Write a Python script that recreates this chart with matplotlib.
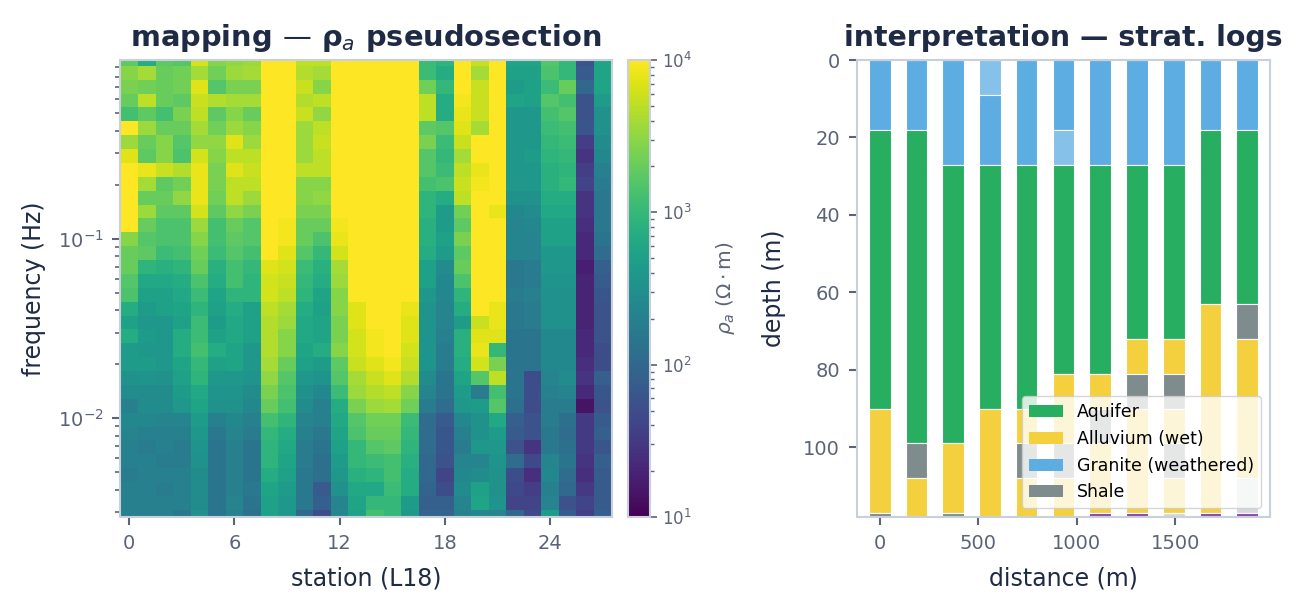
import numpy as np
import matplotlib
matplotlib.use('Agg')
import matplotlib.pyplot as plt
from matplotlib.colors import LogNorm
from matplotlib.patches import Patch

# ---- data: pseudosection (log10 rho_a, rows = high -> low frequency) ----
stations = np.arange(28)
freqs = np.logspace(0, -2.55, 34)

log_rho = [
    [3.25, 2.85, 3.25, 3.2, 3.8, 3.45, 3.5, 3.55, 4.1, 4.1, 3.7, 3.7, 4.1, 4.1, 4.1, 4.1, 4.1, 3.05, 2.95, 4.1, 3.75, 4.1, 2.75, 2.75, 3.2, 3.0, 1.75, 2.75],
    [3.45, 3.6, 3.3, 3.35, 3.6, 3.35, 3.55, 3.6, 4.1, 4.1, 3.65, 3.6, 4.1, 4.1, 4.1, 4.1, 4.1, 3.05, 2.85, 4.1, 3.6, 4.1, 2.7, 2.7, 3.15, 3.0, 1.85, 2.75],
    [3.4, 3.35, 3.3, 3.35, 3.85, 3.2, 3.4, 3.4, 4.1, 4.1, 3.75, 3.45, 4.1, 4.1, 4.1, 4.1, 4.1, 3.35, 3.0, 4.1, 3.75, 4.1, 2.65, 2.7, 3.05, 3.3, 2.0, 2.75],
    [3.3, 3.7, 3.3, 3.25, 3.75, 3.65, 3.6, 3.6, 4.1, 4.1, 3.65, 3.7, 4.1, 4.1, 4.1, 4.1, 4.1, 3.7, 2.85, 3.95, 3.75, 4.1, 2.75, 2.7, 3.2, 3.1, 1.75, 2.65],
    [3.1, 3.25, 3.1, 3.4, 3.7, 3.25, 3.45, 3.3, 4.1, 4.1, 3.75, 3.5, 4.1, 4.1, 4.1, 4.1, 4.1, 3.7, 2.85, 3.9, 3.75, 4.1, 2.6, 2.6, 3.1, 3.2, 1.75, 2.5],
    [4.1, 3.55, 3.3, 3.3, 3.6, 3.35, 3.55, 3.45, 4.1, 4.1, 3.55, 3.7, 4.1, 4.1, 4.1, 4.1, 4.1, 3.25, 3.2, 3.85, 3.6, 4.1, 2.6, 2.6, 3.05, 3.1, 1.8, 2.5],
    [3.55, 3.3, 3.45, 3.2, 3.5, 3.5, 3.85, 3.55, 4.1, 4.1, 3.55, 3.75, 4.1, 4.1, 4.1, 4.1, 4.1, 3.4, 3.05, 3.75, 4.1, 4.1, 2.6, 2.6, 3.0, 3.05, 1.55, 2.45],
    [3.85, 3.25, 3.45, 3.15, 3.8, 3.45, 3.7, 3.7, 4.1, 4.1, 3.55, 3.7, 4.1, 4.1, 4.1, 4.1, 4.1, 3.2, 3.0, 3.6, 4.1, 4.1, 2.6, 2.65, 2.95, 3.0, 1.45, 2.4],
    [4.1, 3.9, 3.75, 3.65, 3.9, 3.4, 3.85, 3.75, 4.1, 4.1, 3.7, 3.7, 4.1, 4.1, 4.1, 4.1, 4.1, 3.2, 3.05, 3.7, 3.9, 4.1, 2.6, 2.6, 2.9, 2.95, 1.55, 2.3],
    [4.1, 3.6, 3.25, 3.35, 3.9, 3.4, 3.7, 3.7, 4.1, 4.1, 3.45, 3.45, 4.1, 4.1, 4.1, 4.1, 4.1, 3.1, 3.15, 3.75, 3.95, 4.1, 2.6, 2.6, 2.9, 3.0, 1.6, 2.25],
    [4.1, 3.3, 3.3, 3.5, 3.9, 3.35, 3.7, 3.55, 4.1, 4.1, 3.45, 3.5, 4.1, 4.1, 4.1, 4.1, 4.1, 2.95, 2.85, 3.7, 4.05, 4.1, 2.5, 2.5, 2.85, 2.85, 1.45, 2.2],
    [4.1, 3.55, 3.25, 3.25, 3.8, 3.25, 3.5, 3.4, 4.1, 4.1, 3.4, 3.4, 4.1, 4.1, 4.1, 4.1, 4.1, 2.95, 2.65, 3.35, 4.1, 3.9, 2.4, 2.45, 2.8, 2.8, 1.45, 2.2],
    [4.1, 3.3, 3.15, 3.15, 3.55, 3.1, 3.3, 3.2, 4.1, 3.95, 3.3, 3.3, 3.95, 4.1, 4.1, 4.1, 4.1, 2.9, 2.65, 3.25, 4.1, 4.1, 2.35, 2.4, 2.7, 2.7, 1.4, 2.2],
    [3.45, 3.2, 3.15, 3.15, 3.45, 3.1, 3.25, 3.2, 4.1, 3.95, 3.3, 3.15, 3.9, 4.1, 4.1, 4.1, 4.1, 2.9, 2.7, 3.4, 4.1, 4.1, 2.35, 2.35, 2.7, 2.7, 1.35, 2.15],
    [3.3, 3.25, 3.05, 3.1, 3.35, 3.05, 3.2, 3.1, 4.1, 3.85, 3.2, 3.0, 3.8, 4.1, 4.1, 4.1, 4.1, 2.85, 2.65, 3.25, 4.1, 4.1, 2.35, 2.35, 2.6, 2.6, 1.35, 2.05],
    [3.3, 2.95, 2.9, 2.95, 3.3, 2.9, 3.1, 3.0, 3.85, 3.8, 3.05, 2.9, 3.6, 4.1, 4.1, 4.1, 4.1, 2.7, 2.45, 3.3, 4.1, 4.1, 2.2, 2.25, 2.6, 2.6, 1.25, 1.9],
    [3.2, 2.8, 2.8, 2.85, 3.15, 2.85, 3.1, 2.95, 3.8, 3.75, 3.0, 2.85, 3.55, 4.1, 4.1, 4.1, 4.1, 2.7, 2.4, 3.15, 4.1, 4.1, 2.2, 2.25, 2.55, 2.55, 1.3, 1.85],
    [3.15, 2.7, 2.7, 2.8, 3.05, 2.75, 2.95, 2.95, 3.8, 3.7, 2.95, 2.75, 3.45, 4.1, 4.1, 4.1, 4.1, 2.6, 2.4, 2.95, 4.1, 4.1, 2.25, 2.3, 2.5, 2.5, 1.3, 1.8],
    [2.85, 2.65, 2.7, 2.75, 2.95, 2.7, 2.85, 2.7, 3.7, 3.6, 2.85, 2.7, 3.45, 3.85, 4.1, 4.1, 3.9, 2.55, 2.35, 2.85, 4.1, 3.9, 2.2, 2.25, 2.5, 2.5, 1.3, 1.75],
    [2.7, 2.6, 2.6, 2.7, 3.05, 2.65, 2.8, 2.7, 3.65, 3.55, 2.8, 2.75, 3.4, 3.85, 4.1, 4.05, 3.85, 2.55, 2.35, 2.65, 3.75, 3.9, 2.2, 2.25, 2.5, 2.5, 1.3, 1.75],
    [2.85, 2.65, 2.6, 2.85, 3.05, 2.7, 2.8, 2.7, 3.65, 3.45, 2.8, 2.75, 3.4, 3.8, 3.95, 4.1, 3.85, 2.55, 2.3, 2.9, 3.85, 3.85, 2.15, 2.15, 2.4, 2.4, 1.35, 1.75],
    [2.65, 2.6, 2.6, 2.85, 3.1, 2.85, 2.75, 2.6, 3.65, 3.45, 2.75, 2.85, 3.45, 3.8, 3.95, 4.05, 3.8, 2.55, 2.25, 2.9, 3.9, 3.0, 2.15, 2.15, 2.4, 2.4, 1.35, 1.7],
    [2.65, 2.65, 2.6, 2.75, 3.0, 2.7, 2.75, 2.6, 3.6, 3.3, 2.7, 2.65, 3.25, 3.75, 3.85, 3.95, 3.75, 2.55, 2.25, 2.85, 3.8, 3.4, 2.15, 2.15, 2.4, 2.4, 1.4, 1.7],
    [2.5, 2.55, 2.5, 2.7, 2.95, 2.6, 2.6, 2.55, 3.5, 3.2, 2.6, 2.55, 3.2, 3.6, 3.75, 3.85, 3.65, 2.45, 2.15, 2.75, 3.2, 3.7, 2.15, 1.7, 2.35, 2.45, 1.45, 1.9],
    [2.45, 2.45, 2.45, 2.65, 2.8, 2.55, 2.55, 2.45, 3.4, 3.15, 2.5, 2.4, 3.05, 3.55, 3.65, 3.7, 3.45, 2.35, 2.15, 2.65, 2.25, 3.1, 2.15, 1.7, 2.3, 2.35, 1.35, 1.8],
    [2.3, 2.45, 2.45, 2.6, 2.75, 2.5, 2.5, 2.4, 3.3, 3.1, 2.45, 2.3, 2.85, 3.4, 3.55, 3.6, 3.35, 2.25, 2.05, 2.6, 2.65, 3.2, 2.1, 1.7, 2.25, 2.25, 1.15, 1.75],
    [2.4, 2.4, 2.35, 2.35, 2.65, 2.3, 2.4, 2.3, 3.1, 2.95, 2.35, 2.3, 2.8, 3.2, 3.35, 3.35, 3.05, 2.05, 1.85, 2.4, 2.5, 2.8, 1.9, 1.75, 2.25, 2.1, 1.5, 1.85],
    [2.35, 2.3, 2.3, 2.3, 2.6, 2.2, 2.35, 2.25, 3.0, 2.85, 2.3, 2.2, 2.75, 3.15, 3.3, 3.3, 3.0, 2.05, 1.8, 2.3, 2.5, 2.65, 1.85, 1.75, 2.2, 2.05, 1.5, 1.9],
    [2.3, 2.25, 2.3, 2.25, 2.55, 2.15, 2.3, 2.15, 2.95, 2.8, 2.25, 2.15, 2.7, 3.0, 3.2, 3.25, 2.95, 2.05, 1.8, 2.25, 2.6, 2.6, 1.75, 1.45, 2.2, 2.1, 1.5, 1.8],
    [2.3, 2.3, 2.25, 2.25, 2.5, 2.15, 2.3, 2.15, 2.95, 2.75, 2.25, 2.1, 2.65, 3.0, 3.05, 3.1, 2.9, 2.0, 1.75, 2.35, 2.35, 2.55, 2.05, 1.65, 2.35, 2.15, 1.45, 1.9],
    [2.25, 2.3, 2.3, 2.3, 2.45, 2.15, 2.3, 2.15, 2.85, 2.7, 2.2, 2.1, 2.6, 2.9, 2.95, 3.1, 2.85, 2.0, 1.6, 2.4, 2.45, 2.5, 1.7, 1.4, 2.4, 2.05, 1.4, 1.85],
    [2.3, 2.3, 2.25, 2.3, 2.45, 2.15, 2.3, 2.2, 2.75, 2.65, 2.2, 1.85, 2.5, 2.8, 2.8, 3.05, 2.85, 1.95, 1.7, 2.45, 2.7, 2.5, 1.65, 1.55, 2.3, 2.0, 1.5, 1.85],
    [2.3, 2.3, 2.3, 2.3, 2.45, 2.15, 2.35, 2.15, 2.7, 2.6, 2.2, 1.9, 2.35, 2.75, 3.0, 3.0, 2.65, 1.9, 1.9, 2.35, 2.75, 2.55, 1.6, 1.6, 2.35, 1.75, 1.6, 1.85],
    [2.3, 2.3, 2.3, 2.2, 2.5, 2.15, 2.3, 2.1, 2.7, 2.6, 2.0, 1.7, 2.4, 2.7, 3.1, 3.0, 2.6, 1.95, 1.95, 2.3, 2.4, 2.35, 2.0, 1.65, 2.65, 1.85, 1.55, 1.9],
]

# ---- data: stratigraphic logs ----
log_dist = [0, 187, 373, 560, 746, 933, 1120, 1306, 1493, 1679, 1866]
# unit codes, top to bottom, and thicknesses (m)
log_units = [
    ['G', 'A', 'W', 'S'],
    ['G', 'A', 'S', 'W'],
    ['G', 'A', 'W', 'S'],
    ['F', 'G', 'A', 'W'],
    ['G', 'A', 'W', 'S', 'W'],
    ['G', 'F', 'A', 'W', 'S', 'W'],
    ['G', 'A', 'W', 'S', 'W', 'P'],
    ['G', 'A', 'W', 'S', 'W', 'P'],
    ['G', 'A', 'W', 'S', 'W', 'S', 'W', 'C'],
    ['G', 'A', 'W', 'P'],
    ['G', 'A', 'S', 'W', 'C', 'P'],
]
log_thick = [
    [18, 72, 27, 1],
    [18, 81, 9, 10],
    [27, 72, 18, 1],
    [9, 18, 63, 28],
    [27, 63, 9, 9, 10],
    [18, 9, 54, 18, 9, 10],
    [27, 54, 9, 9, 18, 1],
    [27, 45, 9, 9, 27, 1],
    [27, 45, 9, 9, 9, 9, 9, 1],
    [18, 45, 54, 1],
    [18, 45, 9, 36, 9, 1],
]
unit_names = {'A': 'Aquifer', 'W': 'Alluvium (wet)', 'G': 'Granite (weathered)', 'S': 'Shale'}
unit_colors = {'A': '#27ae60', 'W': '#f4d03f', 'G': '#5dade2', 'S': '#7f8c8d',
               'F': '#85c1e9', 'C': '#d5d8dc', 'P': '#8e44ad'}
legend_units = ['A', 'W', 'G', 'S']

TITLE = '#1f2a44'
TICK = '#5b6477'
SPINE = '#c8d0dc'


def style_axes(ax):
    for sp in ax.spines.values():
        sp.set_color(SPINE)
        sp.set_linewidth(1.5)
    ax.tick_params(which='major', colors=TICK, labelsize=14, length=6, width=1.5, pad=6)
    ax.tick_params(which='minor', colors=TICK, length=3.5, width=1.2)


fig = plt.figure(figsize=(13.08, 6.09), dpi=100)
W, H = 1308.0, 609.0
ax1 = fig.add_axes([120.5 / W, 92 / H, 491 / W, 457 / H])
cax = fig.add_axes([628 / W, 92 / H, 22 / W, 457 / H])
ax2 = fig.add_axes([856.5 / W, 92 / H, 413.5 / W, 457 / H])

# left: pseudosection
rho = 10 ** np.array(log_rho)
mesh = ax1.pcolormesh(stations, freqs, rho, cmap='viridis',
                      norm=LogNorm(vmin=10, vmax=1e4), shading='nearest')
ax1.set_yscale('log')
ax1.set_ylim(freqs.min(), 0.99)
ax1.set_xlim(-0.5, 27.5)
ax1.set_xticks([0, 6, 12, 18, 24])
ax1.set_xlabel('station (L18)', fontsize=17, color=TITLE, labelpad=10)
ax1.set_ylabel('frequency (Hz)', fontsize=17, color=TITLE, labelpad=9)
ax1.set_title('mapping — ρ$_a$ pseudosection', fontsize=20.8, fontweight='bold',
              color=TITLE, pad=10)
style_axes(ax1)

cbar = fig.colorbar(mesh, cax=cax)
cbar.outline.set_edgecolor(SPINE)
cbar.outline.set_linewidth(1.5)
cbar.ax.tick_params(which='major', colors=TICK, labelsize=12, length=5, width=1.2)
cbar.ax.tick_params(which='minor', colors=TICK, length=3, width=1.0)
cbar.set_label(r'$\rho_a$ ($\Omega\cdot$m)', fontsize=14.5, color=TICK, labelpad=16)

# right: strat logs
bar_w = 110
for x, units, thick in zip(log_dist, log_units, log_thick):
    top = 0
    for u, t in zip(units, thick):
        ax2.bar(x, t, bottom=top, width=bar_w, color=unit_colors[u],
                edgecolor='white', linewidth=0.8)
        top += t

ax2.set_ylim(118, 0)
ax2.set_xlim(-118, 1982)
ax2.set_yticks([0, 20, 40, 60, 80, 100])
ax2.set_xticks([0, 500, 1000, 1500])
ax2.set_xlabel('distance (m)', fontsize=17, color=TITLE, labelpad=10)
ax2.set_ylabel('depth (m)', fontsize=17, color=TITLE, labelpad=12)
ax2.set_title('interpretation — strat. logs', fontsize=20.4, fontweight='bold',
              color=TITLE, pad=10)
style_axes(ax2)

handles = [Patch(facecolor=unit_colors[u]) for u in legend_units]
labels = [unit_names[u] for u in legend_units]
ax2.legend(handles, labels, loc='lower right', fontsize=12.5, framealpha=0.8)

fig.savefig('out.png', dpi=100)
